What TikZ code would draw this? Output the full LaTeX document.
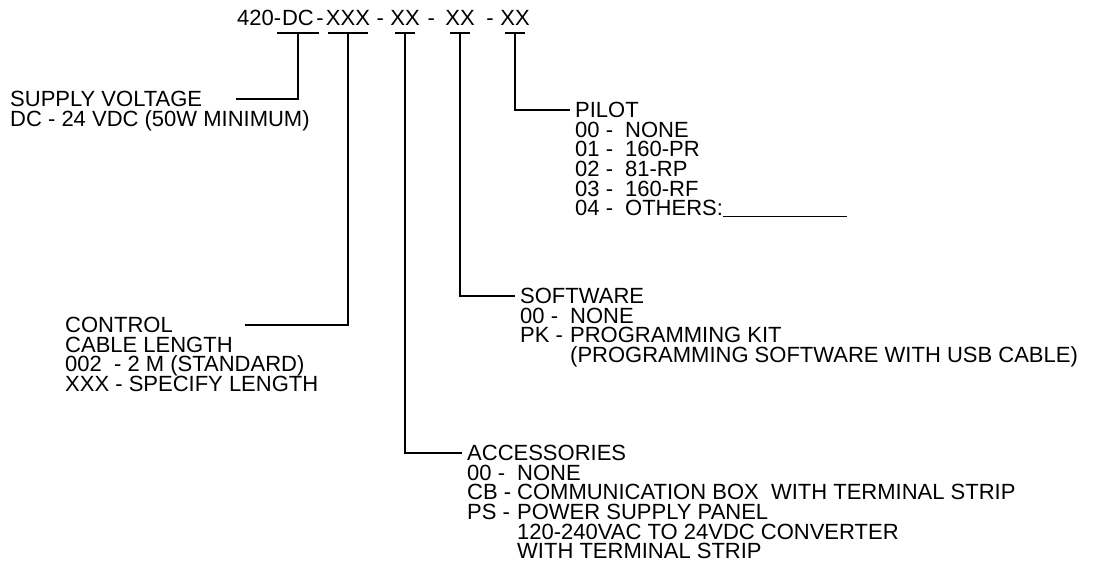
\documentclass[tikz,border=0pt]{standalone}
\usepackage{fontspec}
\setmainfont{Liberation Sans}
\usetikzlibrary{positioning,calc}

\newcommand{\lblfont}{\fontsize{22}{19.6}\selectfont\lineskiplimit -50pt\relax}
\tikzset{
    lbl/.style={inner sep=0pt, align=left, font=\lblfont},
    lead/.style={line width=1.3pt},
}
\newcommand{\opt}[1]{\makebox[50pt][l]{#1}}

\begin{document}
\begin{tikzpicture}[x=1pt,y=-1pt]
    \useasboundingbox (0,0) rectangle (1098,585);

    % part number: one field over each underline
        \foreach \tk/\x/\w/\txt in {sup/298/21/DC, cab/348/20/XXX, acc/405/10/XX, sw/460/10/XX, pil/515/10/XX}{
            \node[lbl, anchor=base] (f\tk) at (\x,26) {\txt};
            \draw[lead] (\x-\w,33) -- (\x+\w,33);
            \coordinate (t\tk) at (\x,33);
        }
        \node[lbl, anchor=base east] (p420) at ([xshift=-0.5pt]fsup.base west) {420-};
        \node[lbl, anchor=base west] (s1) at ([xshift=2pt]fsup.base east) {-};
        \node[lbl, anchor=base] (s2) at ($(fcab.base east)!.5!(facc.base west)$) {-};
        \node[lbl, anchor=base] (s3) at ($(facc.base east)!.45!(fsw.base west)$) {-};
        \node[lbl, anchor=base] (s4) at ($(fsw.base east)!.6!(fpil.base west)$) {-};

    % supply voltage
        \node[lbl, anchor=west] (sup) at (10,99) {SUPPLY VOLTAGE};
        \node[lbl, below right=3.8pt and 0pt of sup.south west] (supv) {DC - 24 VDC (50W MINIMUM)};
        \coordinate (supend) at ([xshift=34pt]sup.east);
        \draw[lead] (tsup) |- (supend);

    % pilot
        \node[lbl, anchor=west] (pil) at (575,110) {PILOT};
        \node[lbl, below right=3.8pt and 0pt of pil.south west] (pilv) {\opt{00 -}NONE\\
            \opt{01 -}160-PR\\ \opt{02 -}81-RP\\ \opt{03 -}160-RF\\
            \opt{04 -}OTHERS:\rule[-1pt]{124pt}{1.2pt}};
        \draw[lead] (tpil) |- ([xshift=-5pt]pil.west);

    % software
        \node[lbl, anchor=west] (sw) at (520,296) {SOFTWARE};
        \node[lbl, below right=3.8pt and 0pt of sw.south west] (swv) {\opt{00 -}NONE\\
            \opt{PK -}PROGRAMMING KIT\\ \opt{}(PROGRAMMING SOFTWARE WITH USB CABLE)};
        \draw[lead] (tsw) |- ([xshift=-5pt]sw.west);

    % control cable
        \node[lbl, anchor=west] (cab) at (65,325) {CONTROL};
        \node[lbl, below right=3.8pt and 0pt of cab.south west] (cabv) {CABLE LENGTH\\
            002\ \ - 2 M (STANDARD)\\ XXX - SPECIFY LENGTH};
        \coordinate (cabend) at ([xshift=72pt]cab.east);
        \draw[lead] (tcab) |- (cabend);

    % accessories
        \node[lbl, anchor=west] (acc) at (467,453) {ACCESSORIES};
        \node[lbl, below right=3.8pt and 0pt of acc.south west] (accv) {\opt{00 -}NONE\\
            \opt{CB -}COMMUNICATION BOX\ \ WITH TERMINAL STRIP\\
            \opt{PS -}POWER SUPPLY PANEL\\ \opt{}120-240VAC TO 24VDC CONVERTER\\
            \opt{}WITH TERMINAL STRIP};
        \draw[lead] (tacc) |- ([xshift=-5pt]acc.west);
\end{tikzpicture}
\end{document}
